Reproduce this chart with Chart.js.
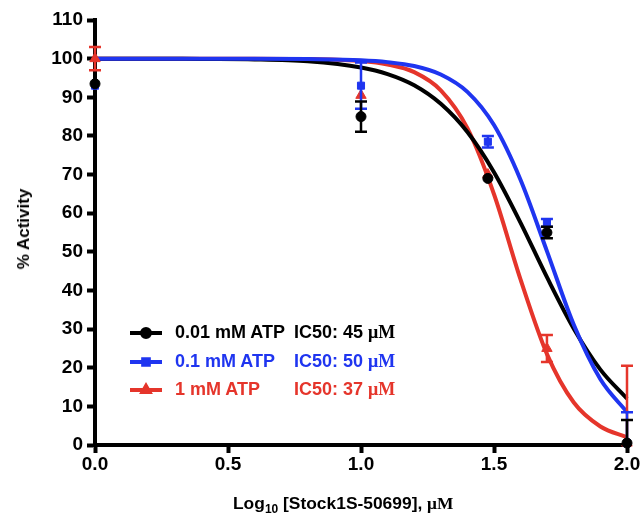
<!DOCTYPE html>
<html>
<head>
<meta charset="utf-8">
<script src="https://cdn.jsdelivr.net/npm/chart.js@4.4.1/dist/chart.umd.min.js"></script>
<style>
  body { margin: 0; background: #fff; }
  #wrap { position: relative; width: 642px; height: 521px; font-family: "Liberation Sans", Arial, sans-serif; font-weight: bold; }
  canvas { position: absolute; left: 0; top: 0; }
  .mu { font-family: "Liberation Serif", "Times New Roman", serif; }
  #ytitle { position: absolute; left: 24px; top: 229px; font-size: 17px; white-space: nowrap;
            transform: translate(-50%, -50%) rotate(-90deg); }
  #xtitle { position: absolute; left: 233px; top: 493px; font-size: 17.4px; white-space: nowrap; }
  #xtitle sub { font-size: 12px; vertical-align: -4px; }
  .row { position: absolute; left: 130px; height: 22px; font-size: 18px; white-space: nowrap; }
  .row canvas { position: static; display: inline-block; vertical-align: middle; }
  .row .lbl { position: absolute; left: 45px; top: 0px; }
  .row .ic { position: absolute; left: 164px; top: 0px; }
</style>
</head>
<body>
<div id="wrap">
  <canvas id="myChart" width="642" height="521"></canvas>
  <div id="ytitle">% Activity</div>
  <div id="xtitle">Log<sub>10</sub> [Stock1S-50699], <span class="mu">μM</span></div>
  <div id="legend"></div>
</div>
<script>
// Concentrações (log10 µM)
const logConc = [0, 1, 1.477, 1.699, 2];

// Médias medidas
const atp001 = [93.5, 85, 69, 55, 0.5];
const atp01 = [93, 93, 78.5, 57.5, 0.5];
const atp1 = [100, 90.5, 70, 25, 0.5];

// Desvios (barras de erro)
const atp001Err = [0, 3.9, 0, 1.5, 6];
const atp01Err = [0, 6, 1.5, 1, 8];
const atp1Err = [3, 0, 0, 3.5, 20];

// Curvas ajustadas
const curveX = [0, 0.2, 0.4, 0.6, 0.8, 1.0, 1.1, 1.2, 1.3, 1.4, 1.5, 1.6, 1.7, 1.8, 1.9, 2.0];
const fit001 = [100, 100, 99.9, 99.8, 99.3, 97.7, 96.0, 93.1, 88.3, 81.0, 70.6, 57.5, 43.3, 30.1, 19.5, 12.0];
const fit01 = [100, 100, 100, 100, 99.9, 99.6, 99.1, 98.1, 95.9, 91.4, 82.8, 68.6, 50.0, 31.1, 17.0, 8.5];
const fit1 = [100, 100, 100, 100, 99.9, 99.4, 98.5, 96.5, 91.8, 82.0, 64.9, 42.8, 23.4, 11.0, 4.8, 2.0];

const xTicks = [0, 0.5, 1, 1.5, 2];
const yTicks = [0, 10, 20, 30, 40, 50, 60, 70, 80, 90, 100, 110];

const series = [
    { name: "0.01 mM ATP", ic50: "IC50: 45 ", color: "#000000", marker: "circle", radius: 5, y: atp001, err: atp001Err, fit: fit001 },
    { name: "0.1 mM ATP", ic50: "IC50: 50 ", color: "#1f35f0", marker: "rect", radius: 5, y: atp01, err: atp01Err, fit: fit01 },
    { name: "1 mM ATP", ic50: "IC50: 37 ", color: "#e5352b", marker: "triangle", radius: 6, y: atp1, err: atp1Err, fit: fit1 }
];

const pts = (xs, ys) => xs.map((x, i) => ({ x: x, y: ys[i] }));

const datasets = [];
const pointOrder = [1, 2, 3];
const curveOrder = [5, 4, 6];
series.forEach((s, i) => {
    datasets.push({
        label: s.name + " fit",
        data: pts(curveX, s.fit),
        showLine: true,
        borderColor: s.color,
        borderWidth: 4,
        pointRadius: 0,
        cubicInterpolationMode: "monotone",
        clip: false,
        order: curveOrder[i]
    });
    datasets.push({
        label: s.name,
        data: pts(logConc, s.y),
        showLine: false,
        pointStyle: s.marker,
        pointRadius: s.radius,
        backgroundColor: s.color,
        borderColor: s.color,
        borderWidth: 1,
        errors: s.err,
        clip: false,
        order: pointOrder[i]
    });
});

// Barras de erro desenhadas pelas escalas do Chart.js
const errorBars = {
    id: "errorBars",
    beforeDatasetDraw(chart, args) {
        const ds = chart.data.datasets[args.index];
        if (!ds.errors) return;
        const ctx = chart.ctx;
        const xs = chart.scales.x, ys = chart.scales.y;
        ctx.save();
        ctx.strokeStyle = ds.borderColor;
        ctx.lineWidth = 2.5;
        ds.data.forEach((p, i) => {
            const e = ds.errors[i];
            if (!e) return;
            const px = xs.getPixelForValue(p.x);
            const top = ys.getPixelForValue(p.y + e);
            const bot = ys.getPixelForValue(Math.max(0, p.y - e));
            ctx.beginPath();
            ctx.moveTo(px, top); ctx.lineTo(px, bot);
            ctx.moveTo(px - 6, top); ctx.lineTo(px + 6, top);
            if (p.y - e > 0) { ctx.moveTo(px - 6, bot); ctx.lineTo(px + 6, bot); }
            ctx.stroke();
        });
        ctx.restore();
    }
};

const tickFont = { family: "'Liberation Sans', Arial, sans-serif", size: 19, weight: "bold" };

const ctx = document.getElementById("myChart").getContext("2d");
const myChart = new Chart(ctx, {
    type: "scatter",
    data: { datasets: datasets },
    plugins: [errorBars],
    options: {
        responsive: false,
        animation: false,
        layout: { padding: { left: 0, right: 15, top: 20, bottom: 0 } },
        plugins: { legend: { display: false }, tooltip: { enabled: false } },
        scales: {
            x: {
                type: "linear",
                min: 0,
                max: 2,
                afterBuildTicks: (axis) => { axis.ticks = xTicks.map(v => ({ value: v })); },
                afterFit: (axis) => { axis.height = 76; },
                ticks: { color: "#000", font: tickFont, padding: 0, callback: (v) => v.toFixed(1) },
                grid: { drawOnChartArea: false, tickLength: 8, tickWidth: 4, tickColor: "#000" },
                border: { color: "#000", width: 4 }
            },
            y: {
                min: 0,
                max: 110,
                afterBuildTicks: (axis) => { axis.ticks = yTicks.map(v => ({ value: v })); },
                afterFit: (axis) => { axis.width = 95; },
                ticks: { color: "#000", font: tickFont, padding: 4 },
                grid: { drawOnChartArea: false, tickLength: 8, tickWidth: 4, tickColor: "#000" },
                border: { color: "#000", width: 4 }
            }
        }
    }
});

// Legenda
const rowsTop = [322, 351, 379];
const legendDiv = document.getElementById("legend");
series.forEach((s, i) => {
    const row = document.createElement("div");
    row.className = "row";
    row.style.top = rowsTop[i] + "px";
    row.style.color = s.color;
    const c = document.createElement("canvas");
    c.width = 32; c.height = 22;
    const g = c.getContext("2d");
    g.strokeStyle = s.color; g.fillStyle = s.color; g.lineWidth = 4;
    g.beginPath(); g.moveTo(0, 11); g.lineTo(32, 11); g.stroke();
    Chart.helpers.drawPoint(g, { pointStyle: s.marker, radius: 4, borderWidth: 1 }, 16, 11);
    g.fill();
    row.appendChild(c);
    const lbl = document.createElement("span");
    lbl.className = "lbl";
    lbl.textContent = s.name;
    row.appendChild(lbl);
    const ic = document.createElement("span");
    ic.className = "ic";
    ic.innerHTML = s.ic50 + '<span class="mu">μM</span>';
    row.appendChild(ic);
    legendDiv.appendChild(row);
});
</script>
</body>
</html>
